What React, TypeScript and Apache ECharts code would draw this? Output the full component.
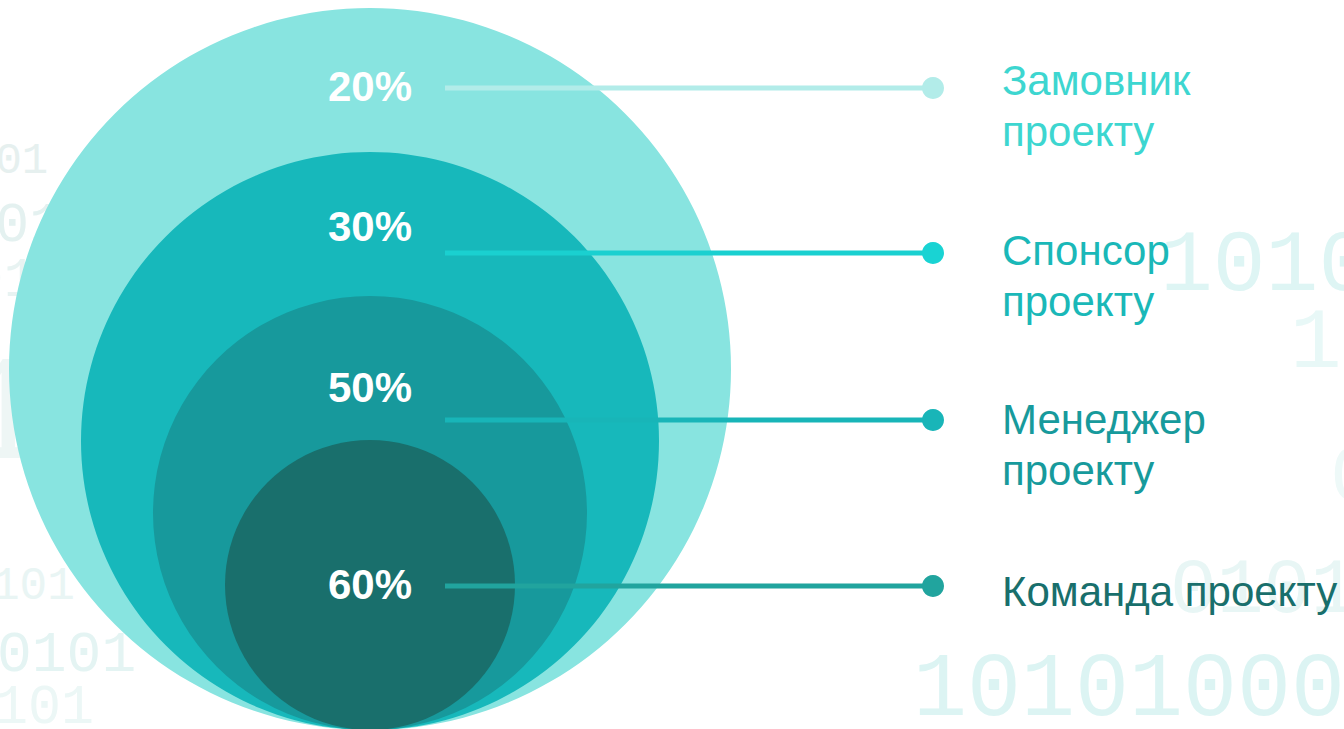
import React, { useEffect, useRef } from "react";
import * as echarts from "echarts";

// ---- data ----
const categories: string[] = [
  "Замовник\nпроекту",
  "Спонсор\nпроекту",
  "Менеджер\nпроекту",
  "Команда проекту",
];
const values: number[] = [20, 30, 50, 60];

// ---- styles ----
const circleColors = ["#88e4e0", "#17b8bb", "#17999c", "#196f6c"];
const lineColors = ["#b2ece9", "#1ad0d0", "#18b5b8", "#21a49e"];
const dotColors = ["#b2ece9", "#19d3d3", "#19b5b8", "#21a49e"];
const textColors = ["#3dd6d0", "#1ab8b8", "#179a9c", "#196f6c"];

// ---- layout (pixels in the hidden 1344 x 729 grid) ----
const W = 1344;
const H = 729;
const centerX = 370;
const bottomY = 730;
const baseRadius = 361;
const ringStep = 72;
const percentY = [86, 226, 387, 584];
const connectorY = [88, 253, 420, 586];
const connectorX1 = 445;
const connectorX2 = 933;
const legendX = 1002;
const legendTop = [54.5, 224.5, 393.5, 565.5];

// background binary decoration
const bgTexts: { t: string; x: number; y: number; s: number; c: string }[] = [
  { t: "10101000", x: 913, y: 691, s: 90, c: "#dcf4f3" },
  { t: "10101", x: 1160, y: 266, s: 88, c: "#def5f4" },
  { t: "1010", x: 1290, y: 344, s: 86, c: "#e8f8f7" },
  { t: "0", x: 1330, y: 478, s: 80, c: "#eef9f8" },
  { t: "01010", x: 1170, y: 591, s: 78, c: "#e8f6f5" },
  { t: "101", x: -31, y: 161, s: 44, c: "#e6f0ef" },
  { t: "1010", x: -38, y: 226, s: 56, c: "#e4f1f0" },
  { t: "01", x: -30, y: 281, s: 56, c: "#e8f3f2" },
  { t: "1", x: -42, y: 418, s: 150, c: "#eef6f5" },
  { t: "101", x: -8, y: 587, s: 46, c: "#e9f5f4" },
  { t: "0101", x: -3, y: 655, s: 58, c: "#e4f4f3" },
  { t: "101", x: -5, y: 708, s: 55, c: "#ecf7f6" },
];

export default function App() {
  const ref = useRef<HTMLDivElement>(null);

  useEffect(() => {
    document.body.style.margin = "0";
    const chart = echarts.init(ref.current!, null, { renderer: "svg" });

    const seriesData = values.map((v, i) => [i, v]);

    chart.setOption({
      animation: false,
      backgroundColor: "#ffffff",
      grid: { left: 0, right: 0, top: 0, bottom: 0 },
      xAxis: { type: "value", min: 0, max: W, show: false },
      yAxis: { type: "value", min: 0, max: H, inverse: true, show: false },
      graphic: bgTexts.map((b) => ({
        type: "text",
        z: 0,
        x: b.x,
        y: b.y,
        silent: true,
        style: {
          text: b.t,
          fill: b.c,
          font: `${b.s}px "Liberation Mono"`,
          align: "left",
          verticalAlign: "middle",
        },
      })),
      series: [
        {
          type: "custom",
          name: "circles",
          coordinateSystem: "cartesian2d",
          z: 2,
          silent: true,
          data: seriesData,
          renderItem: (params: any, api: any) => {
            const i = api.value(0);
            const R = baseRadius - i * ringStep;
            const c = api.coord([centerX, bottomY - R]);
            const e = api.coord([centerX + R, bottomY - R]);
            return {
              type: "circle",
              shape: { cx: c[0], cy: c[1], r: e[0] - c[0] },
              style: { fill: circleColors[i] },
            };
          },
        },
        {
          type: "custom",
          name: "annotations",
          coordinateSystem: "cartesian2d",
          z: 3,
          silent: true,
          data: seriesData,
          renderItem: (params: any, api: any) => {
            const i = api.value(0);
            const v = api.value(1);
            const p = api.coord([centerX, percentY[i]]);
            const l1 = api.coord([connectorX1, connectorY[i]]);
            const l2 = api.coord([connectorX2, connectorY[i]]);
            const lg = api.coord([legendX, legendTop[i]]);
            return {
              type: "group",
              children: [
                {
                  type: "line",
                  shape: { x1: l1[0], y1: l1[1], x2: l2[0], y2: l2[1] },
                  style: { stroke: lineColors[i], lineWidth: 5 },
                },
                {
                  type: "circle",
                  shape: { cx: l2[0], cy: l2[1], r: 11 },
                  style: { fill: dotColors[i] },
                },
                {
                  type: "text",
                  x: p[0],
                  y: p[1],
                  style: {
                    text: `${v}%`,
                    fill: "#ffffff",
                    font: 'bold 42px "Liberation Sans"',
                    align: "center",
                    verticalAlign: "middle",
                  },
                },
                {
                  type: "text",
                  x: lg[0],
                  y: lg[1],
                  style: {
                    text: categories[i],
                    fill: textColors[i],
                    font: '42px "Liberation Sans"',
                    lineHeight: 51,
                    align: "left",
                    verticalAlign: "top",
                  },
                },
              ],
            };
          },
        },
      ],
    });

    return () => chart.dispose();
  }, []);

  return <div ref={ref} style={{ width: W, height: H }} />;
}
